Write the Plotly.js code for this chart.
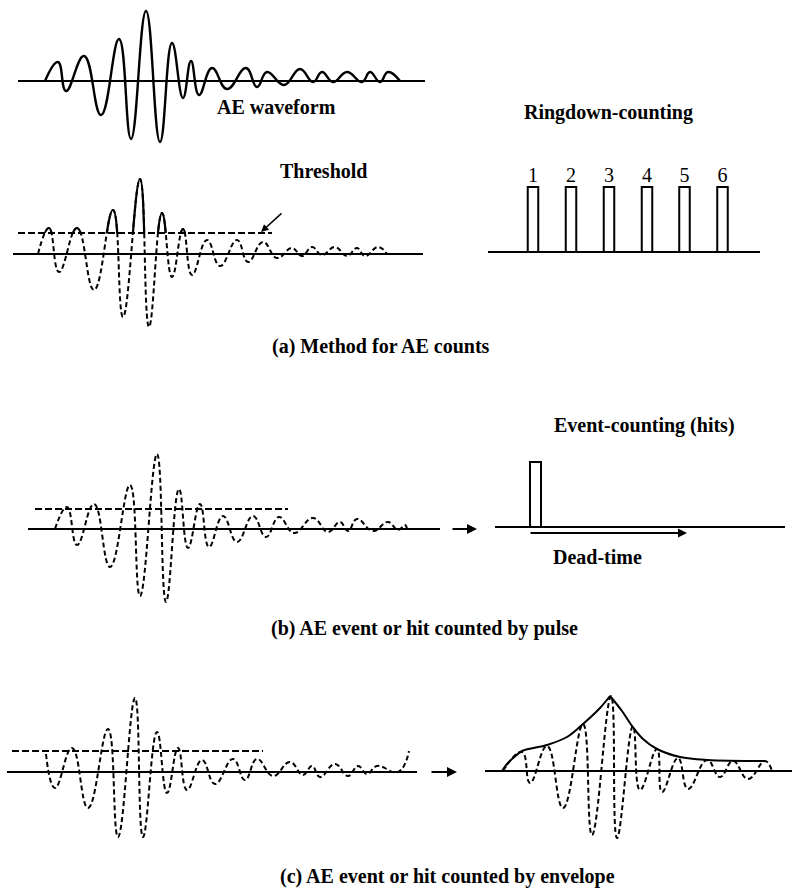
<!DOCTYPE html>
<html><head><meta charset="utf-8">
<script src="https://cdn.plot.ly/plotly-3.0.1.min.js"></script>
<style>html,body{margin:0;padding:0;background:#fff}#chart{width:792px;height:889px}</style>
</head><body><div id="chart"></div>
<script>
// ================= DATA (time units / amplitude units) =================
// (a) AE waveform
const aWaveT = [0,13,21,39,56,74,86,101,115,127,138,146,154,167,182,201,212,222,239,255,268,277,288,302,317,325,335,343,355];
const aWaveA = [0,19,-10,25,-34,42,-58,70,-61,38,-17,20,-14,13,-8,13,-6,9,-4,12,-1,9,-1,9,-1,9,-1,9,0];
const aAxisT = [-27,380];
// (a) waveform with threshold
const a2WaveT = [0,11,21,39,56,75,85,102,111,124,134,145,154,169,182,199,210,225,239,254,264,274,284,297,309,319,327,340,349];
const a2WaveA = [0,26,-18,26,-36,44,-63,75,-73,41,-23,25,-21,14,-12,14,-8,12,-4,6,-2,7,-1,7,-2,6,-2,7,0];
const a2AxisT = [-25,385];
const a2Threshold = 21;
const a2ThresholdT = [-20,234];
// (a) ringdown counts
const ringLabels = ['1','2','3','4','5','6'];
const ringT = [45,83,121,159,196.5,234.5];
const ringH = [65,65,65,65,65,65];
const ringAxisT = [0,272];
// (b) event counted by pulse
const bWaveT = [0,12,22,39,55,75,85,102,111,124,133,145,154,168,182,198,211,224,239,258,273,285,293,302,318,333,343,350,352];
const bWaveA = [0,22,-16,25,-38,44,-67,75,-73,40,-19,25,-18,13,-13,13,-8,12,-4,11,-3,7,-2,10,-2,7,-1,4,0];
const bAxisT = [-27,385];
const bThreshold = 20;
const bThresholdT = [-20,233];
const hitT = [40.5];
const hitH = [65];
const hitAxisT = [0,290];
const deadTimeT = [34,192];
// (c) event counted by envelope
const cWaveT = [0,9,26,42,62,72,89,97,111,121,132,141,156,169,187,199,211,227,244,257,266,274,289,302,312,321,331,352,363];
const cWaveA = [18,-16,24,-36,43,-65,74,-65,40,-21,24,-18,12,-12,13,-8,13,-4,10,-3,6,-5,8,-4,6,-2,6,0,21];
const cAxisT = [-39,371];
const cThreshold = 21;
const cThresholdT = [-34,217];
const cEnvWaveT = [0,19,27,44,60,80,89,108,114,130,137,154,159,175,185,204,217,230,245,262,269];
const cEnvWaveA = [0,19,-12,25,-37,47,-64,75,-67,45,-19,22,-21,13,-18,11,-6,10,-8,10,0];
const envRiseT = [-1,4,9,19,44,64,80,97,107];
const envRiseA = [0,7,12,20,26,34,47,63,75];
const envFallT = [107,119,129,140,154,177,204,262];
const envFallA = [75,60,45,32,22,14,11,10];
const cRAxisT = [-18,289];

// ================= LAYOUT (pixel placement of each panel) =================
const W = 792, H = 889;
const panelList = [
  {ox:45,  base:81,  top:0,   bottom:165},               // 1 a waveform
  {ox:38,  base:254, top:150, bottom:330},               // 2 a threshold (dashed)
  {ox:38,  base:254, top:150, bottom:254 - a2Threshold}, // 3 a part above threshold (solid, clipped)
  {ox:488, base:252, top:120, bottom:300},               // 4 ringdown
  {ox:55,  base:529, top:440, bottom:620},               // 5 b left
  {ox:495, base:527, top:440, bottom:620},               // 6 b right
  {ox:46,  base:772, top:680, bottom:860},               // 7 c left
  {ox:503, base:771, top:680, bottom:860}                // 8 c right
];
const layout = {
  width: W, height: H, margin: {l:0, r:0, t:0, b:0},
  paper_bgcolor: '#fff', plot_bgcolor: 'rgba(0,0,0,0)',
  showlegend: false, annotations: []
};
panelList.forEach((p, i) => {
  const n = i + 1, s = n === 1 ? '' : String(n);
  layout['xaxis' + s] = {domain:[0,1], range:[-p.ox, W - p.ox], visible:false, fixedrange:true, anchor:'y' + s};
  layout['yaxis' + s] = {domain:[1 - p.bottom / H, 1 - p.top / H], range:[p.base - p.bottom, p.base - p.top],
                         visible:false, fixedrange:true, anchor:'x' + s};
});

const K = '#000';
const serif = '"Liberation Serif", "Times New Roman", Times, serif';
const WAVE_DASH = '5px,3px';
const THR_DASH = '7px,3px';
const SM = 1.3;
function ax(n) { return n === 1 ? {xaxis:'x', yaxis:'y'} : {xaxis:'x' + n, yaxis:'y' + n}; }
function seg(t, a, n, opts) {
  return Object.assign({type:'scatter', mode:'lines', x:t, y:a, hoverinfo:'skip',
    line:Object.assign({color:K, width:2}, opts || {})}, ax(n));
}
function flat(t, v) { return t.map(() => v); }

const traces = [
  // (a) top
  seg(aAxisT, flat(aAxisT, 0), 1, {width:2}),
  seg(aWaveT, aWaveA, 1, {width:2.4, shape:'spline', smoothing:SM}),
  // (a) threshold
  seg(a2AxisT, flat(a2AxisT, 0), 2, {width:2}),
  seg(a2ThresholdT, flat(a2ThresholdT, a2Threshold), 2, {width:1.8, dash:THR_DASH}),
  seg(a2WaveT, a2WaveA, 2, {width:2, dash:WAVE_DASH, shape:'spline', smoothing:SM}),
  seg(a2WaveT, a2WaveA, 3, {width:2.2, shape:'spline', smoothing:SM}),
  // ringdown counting
  seg(ringAxisT, flat(ringAxisT, 0), 4, {width:2}),
  Object.assign({type:'bar', x:ringT, y:ringH, width:10.5, hoverinfo:'skip',
    marker:{color:'#fff', line:{color:K, width:2}}}, ax(4)),
  Object.assign({type:'scatter', mode:'text', x:ringT, y:ringH, text:ringLabels, textposition:'top center',
    hoverinfo:'skip', textfont:{family:serif, size:20, color:K}}, ax(4)),
  // (b)
  seg(bAxisT, flat(bAxisT, 0), 5, {width:2}),
  seg(bThresholdT, flat(bThresholdT, bThreshold), 5, {width:1.8, dash:THR_DASH}),
  seg(bWaveT, bWaveA, 5, {width:2, dash:WAVE_DASH, shape:'spline', smoothing:SM}),
  seg(hitAxisT, flat(hitAxisT, 0), 6, {width:2}),
  Object.assign({type:'bar', x:hitT, y:hitH, width:11, hoverinfo:'skip',
    marker:{color:'#fff', line:{color:K, width:2}}}, ax(6)),
  // (c)
  seg(cAxisT, flat(cAxisT, 0), 7, {width:2}),
  seg(cThresholdT, flat(cThresholdT, cThreshold), 7, {width:1.8, dash:THR_DASH}),
  seg(cWaveT, cWaveA, 7, {width:2, dash:WAVE_DASH, shape:'spline', smoothing:SM}),
  seg(cRAxisT, flat(cRAxisT, 0), 8, {width:2}),
  seg(cEnvWaveT, cEnvWaveA, 8, {width:2, dash:WAVE_DASH, shape:'spline', smoothing:SM}),
  seg(envRiseT, envRiseA, 8, {width:2, shape:'spline', smoothing:1}),
  seg(envFallT, envFallA, 8, {width:2, shape:'spline', smoothing:1})
];

// text labels (pixel centres)
const labels = [
  ['<b>AE waveform</b>', 276, 107],
  ['<b>Ringdown-counting</b>', 608, 112],
  ['<b>Threshold</b>', 323, 171],
  ['<b>(a) Method for AE counts</b>', 381, 346],
  ['<b>Event-counting (hits)</b>', 644, 425],
  ['<b>Dead-time</b>', 597, 557],
  ['<b>(b) AE event or hit counted by pulse</b>', 424, 628],
  ['<b>(c) AE event or hit counted by envelope</b>', 447, 876]
];
labels.forEach(([t, x, y]) => layout.annotations.push({
  text:t, xref:'paper', yref:'paper', x:x / W, y:1 - y / H, xanchor:'center', yanchor:'middle',
  showarrow:false, font:{family:serif, size:20, color:K}
}));
function arrow(n, x, y, axv, ayv, w) {
  const s = n === 1 ? '' : String(n);
  layout.annotations.push({text:'', xref:'x' + s, yref:'y' + s, axref:'x' + s, ayref:'y' + s,
    x:x, y:y, ax:axv, ay:ayv, showarrow:true, arrowhead:2, arrowsize:1, arrowwidth:w || 1.6, arrowcolor:K});
}
arrow(2, a2ThresholdT[1] - 11, a2Threshold + 1, a2ThresholdT[1] + 11, a2Threshold + 21, 1.5); // threshold pointer
arrow(5, bAxisT[1] + 37, 0, bAxisT[1] + 11, 0, 2);           // (b) transition arrow
arrow(6, deadTimeT[1], -6, deadTimeT[0], -6, 1.8);            // dead-time
arrow(7, cAxisT[1] + 40, 0, cAxisT[1] + 13, 0, 2);           // (c) transition arrow

Plotly.newPlot('chart', traces, layout, {staticPlot:true, displayModeBar:false});
</script>
</body></html>
